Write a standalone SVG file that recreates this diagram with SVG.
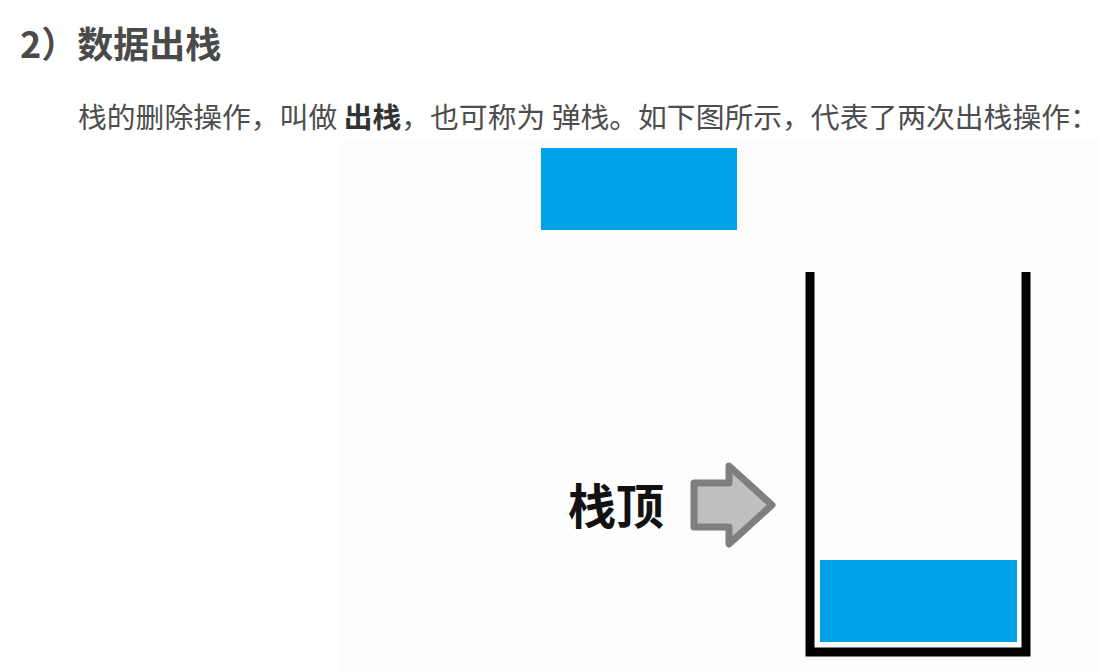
<svg xmlns="http://www.w3.org/2000/svg" width="1098" height="672" viewBox="0 0 1098 672">
<style>
.cjk{font-family:"Noto Sans CJK SC","Noto Sans",sans-serif}
.title{font-size:36px;font-weight:bold;fill:#4a4a4a}
.body{font-size:28.8px;fill:#4d4d4d}
.blk{fill:#00a2e8}
</style>
<rect width="1098" height="672" fill="#ffffff"/>
<rect x="340" y="140" width="758" height="532" fill="#fdfdfd"/>
<g id="title"><text class="cjk title" x="20" y="58">2）数据出栈</text></g>
<g id="desc"><text class="cjk body" x="78" y="128">栈的删除操作，叫做 <tspan font-weight="bold" fill="#333">出栈</tspan>，也可称为 弹栈。如下图所示，代表了两次出栈操作：</text></g>
<g id="popped-block"><rect class="blk" x="541" y="148" width="196" height="82"/></g>
<g id="stack"><path d="M810,272 V652 H1026 V272" fill="none" stroke="#000" stroke-width="9"/></g>
<g id="stack-block"><rect class="blk" x="820" y="560" width="197" height="82"/></g>
<g id="top-label"><text class="cjk" x="568" y="524" font-size="48" font-weight="bold" fill="#111">栈顶</text></g>
<g id="connectors"><path d="M694,483 H729 V466 L772,505 L729,544 V527 H694 Z" fill="#c0c0c0" stroke="#7f7f7f" stroke-width="7" stroke-linejoin="round"/></g>
</svg>
